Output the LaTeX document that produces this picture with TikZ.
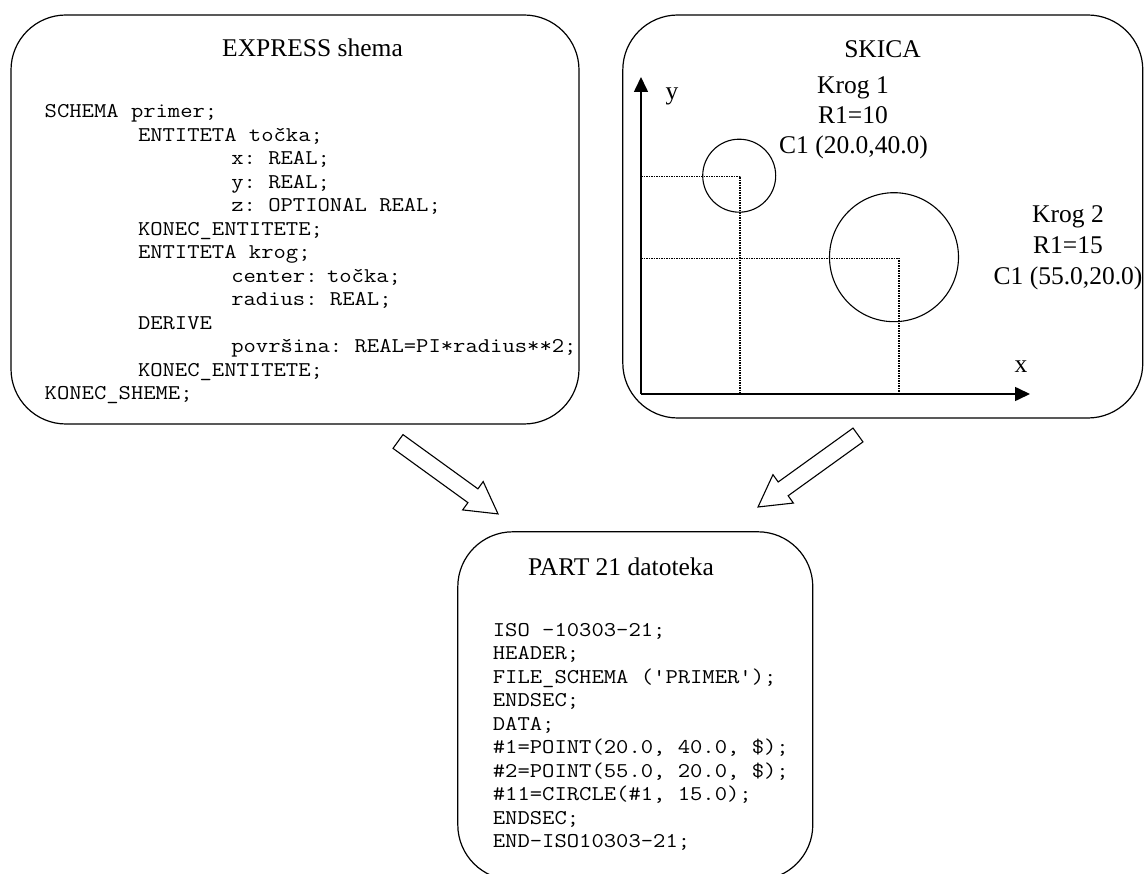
\documentclass[tikz,border=0pt]{standalone}
\usepackage{fontspec}
\setmainfont{Liberation Serif}
\setmonofont{Latin Modern Mono}[FakeStretch=1.14]
\usetikzlibrary{arrows.meta}

\tikzset{
  panel/.style={draw, line width=1.2pt, rounded corners=55pt, inner sep=0pt},
  lbl/.style={font=\fontsize{25.5}{30}\selectfont, anchor=base, inner sep=0pt},
  code/.style={font=\fontsize{21}{23.5}\selectfont\ttfamily, anchor=base west, inner sep=0pt},
  krog/.style={draw, circle, line width=1.1pt, inner sep=0pt},
  guide/.style={densely dotted, line width=1.5pt},
  axis/.style={line width=1.6pt, -{Triangle[length=15pt,width=14pt]}},
  hollow/.style={draw, line width=1.1pt, fill=white, line join=miter},
}
\newcommand{\fatarrow}[3]{%
  \begin{scope}[shift={#1}, rotate=#2]
    \draw[hollow] (0,-8.5) -- (#3-31,-8.5) -- (#3-31,-17.5) -- (#3,0)
      -- (#3-31,17.5) -- (#3-31,8.5) -- (0,8.5) -- cycle;
  \end{scope}}

\begin{document}
\begin{tikzpicture}[x=1pt, y=1pt]
    \useasboundingbox (0,0) rectangle (1144,-874);
    \clip (0,0) rectangle (1144,-874);

    \node[panel, minimum width=568pt, minimum height=409pt] (express) at (295,-219.5) {};
    \node[panel, minimum width=520pt, minimum height=403pt] (skica) at (882.8,-216.5) {};
    \node[panel, minimum width=355pt, minimum height=348pt] (part) at (635.3,-705.8) {};

    \node[lbl] (exptitle) at (312.5,-57) {EXPRESS shema};
    \node[lbl] (skititle) at (882.5,-58) {SKICA};
    \node[lbl] (parttitle) at (621,-575) {PART 21 datoteka};

    \foreach \lev/\txt [count=\i] in {0/{SCHEMA primer;}, 1/{ENTITETA točka;},
        2/{x: REAL;}, 2/{y: REAL;}, 2/{z: OPTIONAL REAL;}, 1/{KONEC\_ENTITETE;},
        1/{ENTITETA krog;}, 2/{center:\hspace*{0.45em}točka;}, 2/{radius: REAL;},
        1/{DERIVE}, 2/{površina: REAL=PI*radius**2;}, 1/{KONEC\_ENTITETE;},
        0/{KONEC\_SHEME;}}
      \node[code] (ex\i) at (44.5+93.3*\lev,-117.7-23.5*\i+23.5) {\txt};

    \foreach \txt [count=\i] in {{ISO -10303-21;}, {HEADER;}, {FILE\_SCHEMA ('PRIMER');},
        {ENDSEC;}, {DATA;}, {\#1=POINT(20.0, 40.0, \$);}, {\#2=POINT(55.0, 20.0, \$);},
        {\#11=CIRCLE(\#1, 15.0);}, {ENDSEC;}, {END-ISO10303-21;}}
      \node[code] (pf\i) at (492.7,-636-23.5*\i+23.5) {\txt};

    \coordinate (orig) at (641,-394);
    \coordinate (ytip) at (641,-77);
    \coordinate (xtip) at (1030,-394);
    \coordinate (c1) at (740,-176.5);
    \coordinate (c2) at (899,-258.5);
    \draw[guide] (orig |- c1) -| (orig -| c1);
    \draw[guide] (orig |- c2) -| (orig -| c2);
    \node[krog, minimum size=73pt] (krog1) at (739.2,-175.7) {};
    \node[krog, minimum size=129pt] (krog2) at (894,-257.2) {};
    \draw[axis] (orig) -- (ytip);
    \draw[axis] (orig) -- (xtip);
    \node[lbl] (ylab) at (672,-100) {y};
    \node[lbl] (xlab) at (1021,-373) {x};

    \node[lbl] (k1a) at (853,-93.3) {Krog 1};
    \node[lbl] (k1b) at (853,-123.5) {R1=10};
    \node[lbl] (k1c) at (853.5,-154) {C1 (20.0,40.0)};
    \node[lbl] (k2a) at (1068,-223) {Krog 2};
    \node[lbl] (k2b) at (1068,-254) {R1=15};
    \node[lbl] (k2c) at (1068,-285) {C1 (55.0,20.0)};

    \coordinate (tailL) at (398,-441.5);
    \coordinate (tailR) at (858,-435);
    \fatarrow{(tailL)}{-35.9}{123.5}
    \fatarrow{(tailR)}{215.75}{123.2}
\end{tikzpicture}
\end{document}
